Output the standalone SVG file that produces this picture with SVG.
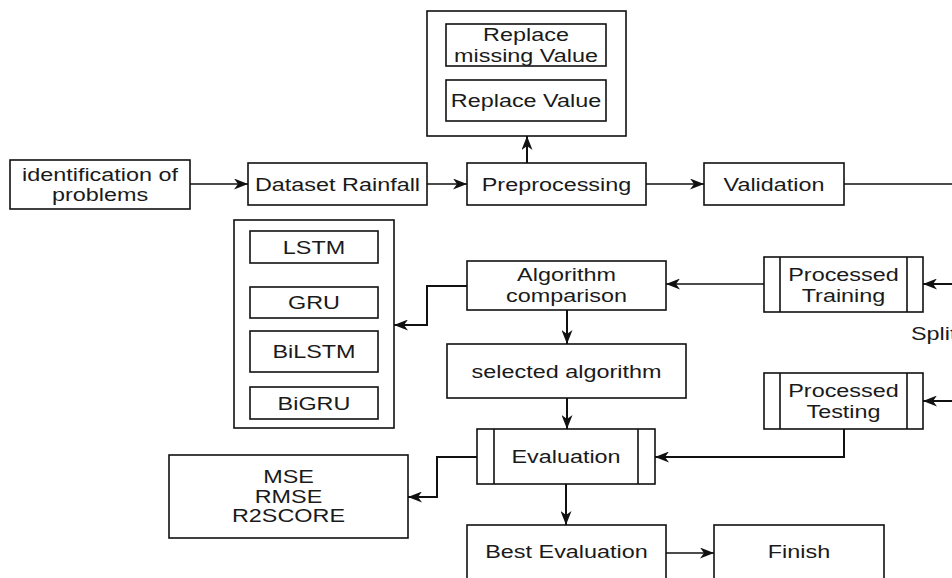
<svg xmlns="http://www.w3.org/2000/svg" width="952" height="578" viewBox="0 0 952 578">
<style>
.b{fill:#fff;stroke:#111;stroke-width:1.6}
.t{font-family:"Liberation Sans",Arial,sans-serif;font-size:18.5px;fill:#1a1a1a;text-anchor:middle}
.c{fill:none;stroke:#111;stroke-width:1.3}
.k{fill:none;stroke:#111;stroke-width:2}
</style>
<defs>
<marker id="a" viewBox="0 0 14 11" markerWidth="14" markerHeight="11" refX="14" refY="5.5" orient="auto" markerUnits="userSpaceOnUse">
<path d="M0,0 L14,5.5 L0,11 L4,5.5 Z" fill="#111"/>
</marker>
</defs>
<rect width="952" height="578" fill="#fff"/>

<g id="connectors">
<path class="c" d="M190,184 H248" marker-end="url(#a)"/>
<path class="c" d="M427,184 H467" marker-end="url(#a)"/>
<path class="k" d="M527,163 V136" marker-end="url(#a)"/>
<path class="c" d="M646,184 H704" marker-end="url(#a)"/>
<path class="c" d="M844,184 H952"/>
<path class="k" d="M952,284 H923" marker-end="url(#a)"/>
<path class="k" d="M952,401 H923" marker-end="url(#a)"/>
<path class="c" d="M764,284 H666" marker-end="url(#a)"/>
<path class="k" d="M467,286 H427 V325 H394" marker-end="url(#a)"/>
<path class="k" d="M567,310 V344" marker-end="url(#a)"/>
<path class="k" d="M567,398 V429" marker-end="url(#a)"/>
<path class="k" d="M844,429 V457 H655" marker-end="url(#a)"/>
<path class="k" d="M477,457 H437 V497 H408" marker-end="url(#a)"/>
<path class="k" d="M566,484 V525" marker-end="url(#a)"/>
<path class="c" d="M666,553 H714" marker-end="url(#a)"/>
</g>

<g id="identification">
<rect class="b" x="10" y="160" width="180" height="49"/>
<text class="t" transform="translate(100 180.5) scale(1.265 1)">identification of</text>
<text class="t" transform="translate(100 201) scale(1.265 1)">problems</text>
</g>

<g id="dataset">
<rect class="b" x="248" y="163" width="179" height="42"/>
<text class="t" transform="translate(337.5 190.5) scale(1.265 1)">Dataset Rainfall</text>
</g>

<g id="preprocessing">
<rect class="b" x="467" y="163" width="179" height="42"/>
<text class="t" transform="translate(556.5 190.5) scale(1.265 1)">Preprocessing</text>
</g>

<g id="replace-group">
<rect class="b" x="427" y="11" width="199" height="125"/>
<rect class="b" x="446" y="24" width="160" height="42"/>
<text class="t" transform="translate(526 41) scale(1.265 1)">Replace</text>
<text class="t" transform="translate(526 62) scale(1.265 1)">missing Value</text>
<rect class="b" x="446" y="80" width="160" height="41"/>
<text class="t" transform="translate(526 107) scale(1.265 1)">Replace Value</text>
</g>

<g id="validation">
<rect class="b" x="704" y="163" width="140" height="42"/>
<text class="t" transform="translate(774 190.5) scale(1.265 1)">Validation</text>
</g>

<g id="processed-training">
<rect class="b" x="764" y="257" width="159" height="55"/>
<path class="c" d="M780,257 V312 M907,257 V312" style="stroke-width:1.6"/>
<text class="t" transform="translate(843.5 280.5) scale(1.265 1)">Processed</text>
<text class="t" transform="translate(843.5 301.5) scale(1.265 1)">Training</text>
</g>

<text class="t" style="text-anchor:start" transform="translate(911 340) scale(1.265 1)">Split</text>

<g id="processed-testing">
<rect class="b" x="764" y="373" width="159" height="56"/>
<path class="c" d="M780,373 V429 M907,373 V429" style="stroke-width:1.6"/>
<text class="t" transform="translate(843.5 397) scale(1.265 1)">Processed</text>
<text class="t" transform="translate(843.5 418) scale(1.265 1)">Testing</text>
</g>

<g id="algorithm-comparison">
<rect class="b" x="467" y="261" width="199" height="49"/>
<text class="t" transform="translate(566.5 281) scale(1.265 1)">Algorithm</text>
<text class="t" transform="translate(566.5 302) scale(1.265 1)">comparison</text>
</g>

<g id="algorithms">
<rect class="b" x="234" y="220" width="160" height="208"/>
<rect class="b" x="250" y="231" width="128" height="32"/>
<text class="t" transform="translate(314 253.5) scale(1.265 1)">LSTM</text>
<rect class="b" x="250" y="287" width="128" height="31"/>
<text class="t" transform="translate(314 309) scale(1.265 1)">GRU</text>
<rect class="b" x="250" y="331" width="128" height="41"/>
<text class="t" transform="translate(314 358) scale(1.265 1)">BiLSTM</text>
<rect class="b" x="250" y="387" width="128" height="32"/>
<text class="t" transform="translate(314 409.5) scale(1.265 1)">BiGRU</text>
</g>

<g id="selected-algorithm">
<rect class="b" x="447" y="344" width="239" height="54"/>
<text class="t" transform="translate(566.5 377.5) scale(1.265 1)">selected algorithm</text>
</g>

<g id="evaluation">
<rect class="b" x="477" y="429" width="178" height="55"/>
<path class="c" d="M494,429 V484 M638,429 V484" style="stroke-width:1.6"/>
<text class="t" transform="translate(566 462.5) scale(1.265 1)">Evaluation</text>
</g>

<g id="metrics">
<rect class="b" x="169" y="455" width="239" height="83"/>
<text class="t" transform="translate(288.5 483) scale(1.265 1)">MSE</text>
<text class="t" transform="translate(288.5 502.5) scale(1.265 1)">RMSE</text>
<text class="t" transform="translate(288.5 522) scale(1.265 1)">R2SCORE</text>
</g>

<g id="best-evaluation">
<rect class="b" x="467" y="525" width="199" height="70"/>
<text class="t" transform="translate(566.5 557.5) scale(1.265 1)">Best Evaluation</text>
</g>

<g id="finish">
<rect class="b" x="714" y="525" width="170" height="70"/>
<text class="t" transform="translate(799 557.5) scale(1.265 1)">Finish</text>
</g>
</svg>
